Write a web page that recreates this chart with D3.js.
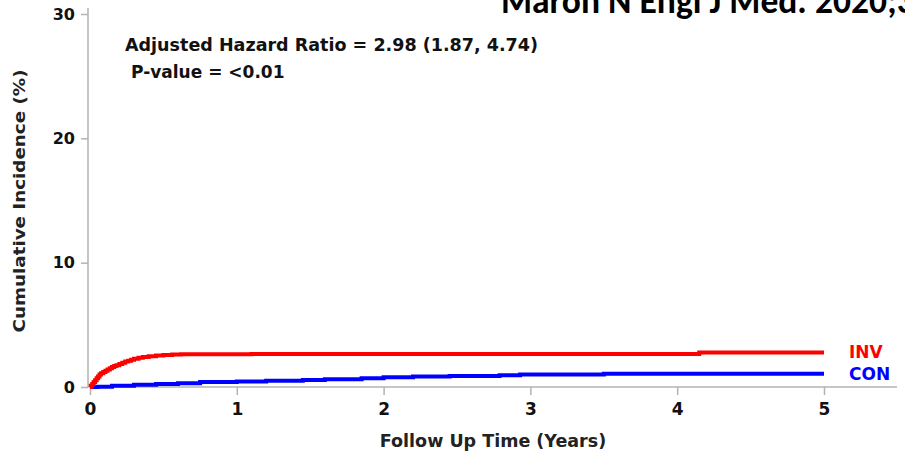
<!DOCTYPE html>
<html>
<head>
<meta charset="utf-8">
<script src="https://cdn.jsdelivr.net/npm/d3@7"></script>
<style>
  body { margin: 0; background: #fff; }
  svg { display: block; }
  text { font-family: "DejaVu Sans", sans-serif; font-weight: bold; }
</style>
</head>
<body>
<div id="chart"></div>
<script>
// Cumulative incidence, INV vs CON (step curves)

let width = 905;
let height = 454;

// time in years, cumulative incidence in %
let invTimes = [0, 0.005, 0.015, 0.025, 0.035, 0.045, 0.055, 0.065, 0.075, 0.09, 0.105, 0.12, 0.135, 0.15, 0.165, 0.18, 0.2, 0.22, 0.24, 0.26, 0.28, 0.3, 0.33, 0.36, 0.4, 0.45, 0.5, 0.56, 0.62, 1.1, 1.5, 4.15, 5]
let invValues = [0, 0.1, 0.25, 0.4, 0.55, 0.7, 0.85, 1.0, 1.1, 1.2, 1.3, 1.4, 1.5, 1.6, 1.68, 1.75, 1.85, 1.95, 2.05, 2.12, 2.2, 2.28, 2.35, 2.42, 2.48, 2.53, 2.57, 2.61, 2.64, 2.65, 2.66, 2.78, 2.78]

let conTimes = [0, 0.05, 0.15, 0.3, 0.45, 0.6, 0.75, 1.0, 1.2, 1.45, 1.6, 1.85, 2.0, 2.2, 2.45, 2.79, 2.93, 3.5, 5]
let conValues = [0, 0.03, 0.1, 0.18, 0.25, 0.3, 0.4, 0.45, 0.5, 0.56, 0.62, 0.7, 0.78, 0.85, 0.88, 0.95, 1.0, 1.07, 1.07]

let xTicks = [0, 1, 2, 3, 4, 5]
let yTicks = [0, 10, 20, 30]

let seriesNames = ["INV", "CON"]
let seriesColors = ["#ff0000", "#0000ff"]

let svg = d3.select("#chart")
  .append("svg")
  .attr("width", width)
  .attr("height", height)

let x = d3.scaleLinear().domain([0, 5]).range([90, 824])
let y = d3.scaleLinear().domain([0, 30]).range([387, 14])

// title, cut off at the corner like the slide it came from
let titleFont = "Carlito, 'Liberation Sans', Arial, sans-serif"
let title = svg.append("text")
  .attr("x", 501)
  .attr("y", 13)
  .style("font-family", titleFont)
  .attr("font-size", 30)
  .text("Maron N Engl J Med. 2020;")
// size it so that "2020;" ends where it does on the slide
let w = title.node().getComputedTextLength()
title.attr("font-size", 30 * 396 / w)
  .text("Maron N Engl J Med. 2020;382:1395-1407")

// axes
let axisColor = "#b3b3b3"

let yAxis = d3.axisLeft(y).tickValues(yTicks).tickSize(7).tickPadding(6)
let gy = svg.append("g")
  .attr("transform", "translate(88,0)")
  .call(yAxis)
gy.select(".domain").remove()
gy.append("line")
  .attr("x1", 0).attr("x2", 0)
  .attr("y1", 8).attr("y2", 387)
  .attr("stroke", axisColor).attr("stroke-width", 1.5)
gy.selectAll(".tick line").attr("stroke", axisColor).attr("stroke-width", 1.5)
gy.selectAll(".tick text")
  .attr("font-size", 16)
  .attr("font-weight", "bold")
  .attr("fill", "#111")
  .style("font-family", "DejaVu Sans")

let xAxis = d3.axisBottom(x).tickValues(xTicks).tickFormat(d3.format("d")).tickSize(8).tickPadding(8)
let gx = svg.append("g")
  .attr("transform", "translate(0,387)")
  .call(xAxis)
gx.select(".domain").remove()
gx.append("line")
  .attr("x1", 88).attr("x2", 897)
  .attr("y1", 0).attr("y2", 0)
  .attr("stroke", axisColor).attr("stroke-width", 1.5)
gx.selectAll(".tick line").attr("stroke", axisColor).attr("stroke-width", 1.5)
gx.selectAll(".tick text")
  .attr("font-size", 17)
  .attr("font-weight", "bold")
  .attr("fill", "#111")
  .style("font-family", "DejaVu Sans")

// axis titles
svg.append("text")
  .attr("x", 493)
  .attr("y", 447)
  .attr("text-anchor", "middle")
  .attr("font-size", 17.5)
  .attr("fill", "#222")
  .text("Follow Up Time (Years)")

svg.append("text")
  .attr("transform", "translate(25,201) rotate(-90)")
  .attr("text-anchor", "middle")
  .attr("font-size", 15.5)
  .attr("textLength", 263)
  .attr("lengthAdjust", "spacingAndGlyphs")
  .attr("fill", "#222")
  .text("Cumulative Incidence (%)")

// curves
let line = d3.line()
  .x(d => x(d[0]))
  .y(d => y(d[1]))
  .curve(d3.curveStepAfter)

let invData = d3.zip(invTimes, invValues)
let conData = d3.zip(conTimes, conValues)

svg.append("path")
  .datum(conData)
  .attr("d", line)
  .attr("fill", "none")
  .attr("stroke", seriesColors[1])
  .attr("stroke-width", 4)

svg.append("path")
  .datum(invData)
  .attr("d", line)
  .attr("fill", "none")
  .attr("stroke", seriesColors[0])
  .attr("stroke-width", 4)

// labels at the end of the curves
svg.append("text")
  .attr("x", 849)
  .attr("y", 358)
  .attr("font-size", 17)
  .attr("fill", seriesColors[0])
  .text(seriesNames[0])

svg.append("text")
  .attr("x", 849)
  .attr("y", 380)
  .attr("font-size", 17)
  .attr("fill", seriesColors[1])
  .text(seriesNames[1])

// stats annotation
svg.append("text")
  .attr("x", 125)
  .attr("y", 51)
  .attr("font-size", 17)
  .attr("textLength", 413)
  .attr("lengthAdjust", "spacingAndGlyphs")
  .attr("fill", "#111")
  .text("Adjusted Hazard Ratio = 2.98 (1.87, 4.74)")

svg.append("text")
  .attr("x", 131)
  .attr("y", 78)
  .attr("font-size", 17)
  .attr("fill", "#111")
  .text("P-value = <0.01")
</script>
</body>
</html>
